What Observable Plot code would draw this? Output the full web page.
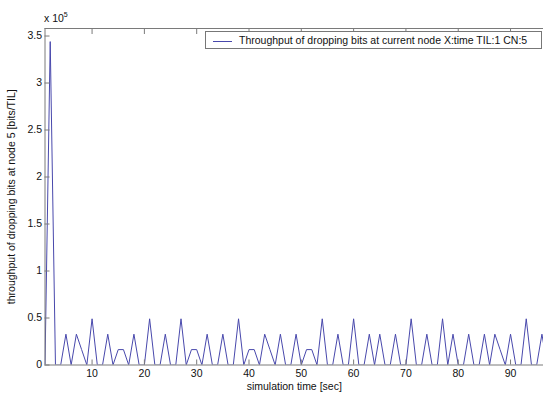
<!DOCTYPE html>
<html><head><meta charset="utf-8">
<script src="https://cdn.jsdelivr.net/npm/d3@7"></script>
<script src="https://cdn.jsdelivr.net/npm/@observablehq/plot@0.6"></script>
<style>
body{margin:0;background:#fff;}
#wrap{position:relative;width:543px;height:396px;font-family:"Liberation Sans",Arial,sans-serif;color:#111;}
#legend{position:absolute;left:205px;top:31px;width:335px;height:16px;border:1px solid #777;background:#fff;font-size:10.5px;line-height:16px;white-space:nowrap;}
#legend .sw{display:inline-block;width:19px;height:0;border-top:1px solid #4848ac;vertical-align:middle;margin:0 7px 0 7px;}
#expo{position:absolute;left:44px;top:11px;font-size:10.5px;}
#expo sup{font-size:7px;}
</style></head><body>
<div id="wrap"><div id="expo">x 10<sup>5</sup></div><div id="legend"><span class="sw"></span><span id="legtext"></span></div></div>
<script>
// simulation time [sec] (one sample per TIL)
const time = [1,2,3,4,5,6,7,8,9,10,11,12,13,14,15,16,17,18,19,20,21,22,23,24,25,26,27,28,29,30,31,32,33,34,35,36,37,38,39,40,41,42,43,44,45,46,47,48,49,50,51,52,53,54,55,56,57,58,59,60,61,62,63,64,65,66,67,68,69,70,71,72,73,74,75,76,77,78,79,80,81,82,83,84,85,86,87,88,89,90,91,92,93,94,95,96,97];
// throughput of dropping bits at node 5 [bits/TIL]
const dropped = [0,344064,0,0,32768,0,32768,16384,0,49152,0,0,32768,0,16384,16384,0,32768,0,0,49152,0,0,32768,0,0,49152,0,16384,16384,0,32768,0,0,32768,0,0,49152,0,16384,16384,0,32768,16384,0,32768,0,0,32768,0,16384,16384,0,49152,0,0,32768,0,0,49152,0,0,32768,0,32768,0,0,32768,0,0,49152,0,0,32768,0,0,49152,0,32768,0,0,32768,0,0,32768,0,32768,16384,0,32768,0,0,49152,0,0,32768,0];
const xTicks = [10,20,30,40,50,60,70,80,90];
const yTicks = [0,50000,100000,150000,200000,250000,300000,350000];
const xDomain = [1, 96.3];
const yDomain = [0, 358000];
const xLabel = "simulation time [sec]";
const yLabel = "throughput of dropping bits at node 5 [bits/TIL]";
const legendLabel = "Throughput of dropping bits at current node X:time TIL:1 CN:5";

const data = time.map((t, i) => ({t, v: dropped[i]}));
const axisGray = "#7a7a7a";

const chart = Plot.plot({
  width: 543, height: 396,
  marginLeft: 44.5, marginRight: 0, marginTop: 28, marginBottom: 31.5,
  style: {fontFamily: "Liberation Sans, Arial, sans-serif", fontSize: "10.5px", background: "transparent", color: "#111", overflow: "visible"},
  x: {domain: xDomain},
  y: {domain: yDomain},
  marks: [
    Plot.line(data, {x: "t", y: "v", stroke: "#4848ac", strokeWidth: 1, clip: true}),
    Plot.ruleY([yDomain[0]], {stroke: axisGray}),
    Plot.ruleY([yDomain[1]], {stroke: axisGray}),
    Plot.ruleX([xDomain[0]], {stroke: axisGray}),
    Plot.axisX({ticks: xTicks, tickSize: -5, tickPadding: 10, stroke: axisGray, label: xLabel, labelAnchor: "center", labelArrow: "none", labelOffset: 25}),
    Plot.axisX({anchor: "top", ticks: xTicks, tickSize: -5, tickFormat: () => "", stroke: axisGray, label: null}),
    Plot.axisY({ticks: yTicks, tickSize: -5, tickPadding: 8, stroke: axisGray, tickFormat: d => d3.format("~g")(d / 1e5), label: yLabel, labelAnchor: "center", labelArrow: "none", labelOffset: 37})
  ]
});
document.getElementById("wrap").prepend(chart);
chart.style.position = "absolute"; chart.style.left = "0"; chart.style.top = "0";
document.getElementById("legtext").textContent = legendLabel;
document.getElementById("expo").style.zIndex = 2;
document.getElementById("legend").style.zIndex = 2;
</script>
</body></html>
